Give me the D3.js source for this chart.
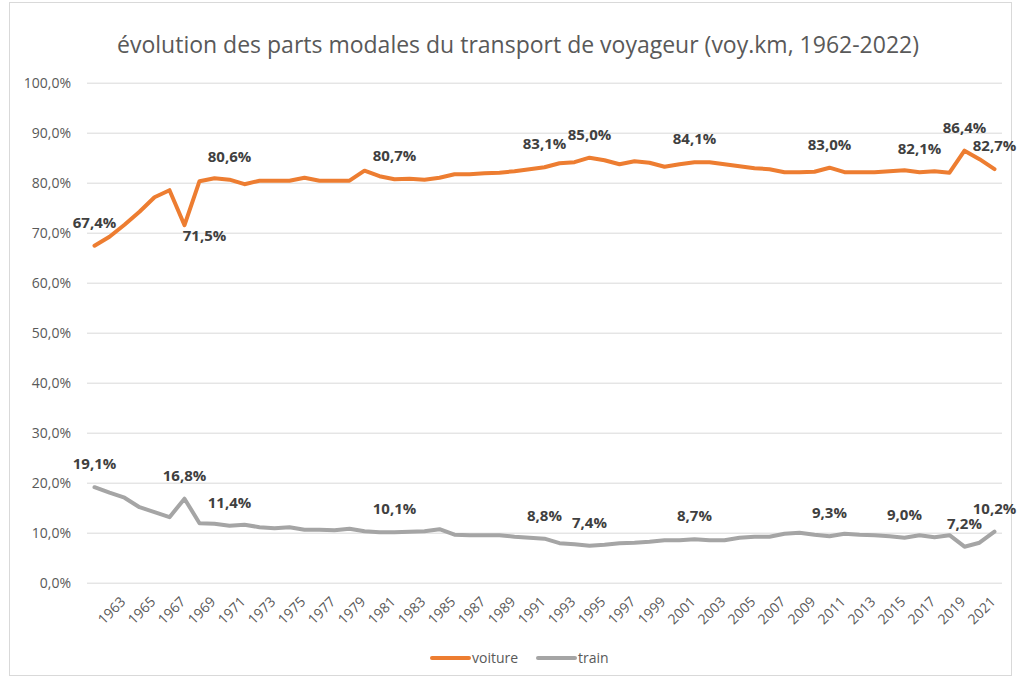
<!DOCTYPE html>
<html>
<head>
<meta charset="utf-8">
<script src="https://cdn.jsdelivr.net/npm/d3@7"></script>
<style>
  body { margin: 0; background: #fff; }
  text { font-family: "Open Sans", sans-serif; }
</style>
</head>
<body>
<div id="chart"></div>
<script>
// Categories (years)
const years = [1962, 1963, 1964, 1965, 1966, 1967, 1968, 1969, 1970, 1971,
  1972, 1973, 1974, 1975, 1976, 1977, 1978, 1979, 1980, 1981,
  1982, 1983, 1984, 1985, 1986, 1987, 1988, 1989, 1990, 1991,
  1992, 1993, 1994, 1995, 1996, 1997, 1998, 1999, 2000, 2001,
  2002, 2003, 2004, 2005, 2006, 2007, 2008, 2009, 2010, 2011,
  2012, 2013, 2014, 2015, 2016, 2017, 2018, 2019, 2020, 2021, 2022];

// Part modale voiture (%)
const voiture = [67.4, 69.2, 71.6, 74.2, 77.1, 78.5, 71.5, 80.3, 80.9, 80.6,
  79.7, 80.4, 80.4, 80.4, 81.0, 80.4, 80.4, 80.4, 82.4, 81.3,
  80.7, 80.8, 80.6, 81.0, 81.7, 81.7, 81.9, 82.0, 82.3, 82.7,
  83.1, 83.9, 84.1, 85.0, 84.5, 83.7, 84.3, 84.0, 83.2, 83.7,
  84.1, 84.1, 83.7, 83.3, 82.9, 82.7, 82.1, 82.1, 82.2, 83.0,
  82.1, 82.1, 82.1, 82.3, 82.5, 82.1, 82.3, 82.0, 86.4, 84.7, 82.7];

// Part modale train (%)
const train = [19.1, 18.0, 17.0, 15.1, 14.1, 13.1, 16.8, 11.9, 11.8, 11.4,
  11.6, 11.1, 10.9, 11.1, 10.6, 10.6, 10.5, 10.8, 10.3, 10.1,
  10.1, 10.2, 10.3, 10.7, 9.6, 9.5, 9.5, 9.5, 9.2, 9.0,
  8.8, 7.9, 7.7, 7.4, 7.6, 7.9, 8.0, 8.2, 8.5, 8.5,
  8.7, 8.5, 8.5, 9.0, 9.2, 9.2, 9.8, 10.0, 9.6, 9.3,
  9.8, 9.6, 9.5, 9.3, 9.0, 9.5, 9.1, 9.5, 7.2, 8.0, 10.2];

// Years that carry a data label
const voitureLabelYears = [1962, 1968, 1971, 1982, 1992, 1995, 2002, 2011, 2017, 2020, 2022];
const trainLabelYears = [1962, 1968, 1971, 1982, 1992, 1995, 2002, 2011, 2016, 2020, 2022];

// Axis ticks
const yTicks = [0, 10, 20, 30, 40, 50, 60, 70, 80, 90, 100];
const xTickYears = years.filter((d) => d % 2 === 1);

const title = "évolution des parts modales du transport de voyageur (voy.km, 1962-2022)";

const w = 1019;
const h = 679;
const plotLeft = 87, plotRight = 1002, plotTop = 82.7, plotBottom = 582.7;

const fr = d3.formatLocale({ decimal: ",", thousands: " ", grouping: [3], currency: ["", "€"] });
const pct = (v) => fr.format(".1f")(v) + "%";

const svg = d3.select("#chart").append("svg")
  .attr("width", w)
  .attr("height", h);

// Chart frame
svg.append("rect")
  .attr("x", 9.5).attr("y", 2.5)
  .attr("width", 1002).attr("height", 673)
  .attr("fill", "#fff")
  .attr("stroke", "#d9d9d9");

// Scales
const x = d3.scaleBand().domain(years).range([plotLeft, plotRight]);
const cx = (yr) => x(yr) + x.bandwidth() / 2;
const y = d3.scaleLinear().domain([0, 100]).range([plotBottom, plotTop]);

// Title
svg.append("text")
  .attr("x", 518).attr("y", 53)
  .attr("text-anchor", "middle")
  .attr("font-size", 23)
  .attr("fill", "#595959")
  .text(title);

// Y axis with gridlines
const yAxis = svg.append("g")
  .attr("transform", `translate(${plotLeft},0)`)
  .call(d3.axisLeft(y).tickValues(yTicks).tickFormat(pct)
    .tickSizeInner(-(plotRight - plotLeft)).tickSizeOuter(0).tickPadding(16));
yAxis.select(".domain").remove();
yAxis.selectAll(".tick line").attr("stroke", "#d9d9d9").attr("stroke-width", 1);
yAxis.selectAll(".tick text")
  .attr("font-size", 14)
  .attr("fill", "#595959")
  .attr("font-family", "Open Sans, sans-serif");

// X axis, rotated labels
const xAxis = svg.append("g")
  .attr("transform", `translate(0,${plotBottom})`)
  .call(d3.axisBottom(x).tickValues(xTickYears).tickSize(0));
xAxis.select(".domain").remove();
xAxis.selectAll(".tick text")
  .attr("x", 0).attr("y", 0).attr("dy", 0)
  .attr("text-anchor", "end")
  .attr("transform", "translate(17,20) rotate(-45)")
  .attr("font-size", 14)
  .attr("fill", "#595959")
  .attr("font-family", "Open Sans, sans-serif");

// Lines
const series = [
  { name: "voiture", values: voiture, color: "#ED7D31", labels: voitureLabelYears },
  { name: "train", values: train, color: "#A5A5A5", labels: trainLabelYears }
];

const line = d3.line()
  .x((d, i) => cx(years[i]))
  .y((d) => y(d));

series.forEach((s) => {
  svg.append("path")
    .datum(s.values)
    .attr("fill", "none")
    .attr("stroke", s.color)
    .attr("stroke-width", 4)
    .attr("stroke-linejoin", "round")
    .attr("stroke-linecap", "round")
    .attr("d", line);
});

// Data labels
series.forEach((s) => {
  svg.append("g")
    .selectAll("text")
    .data(s.labels)
    .enter()
    .append("text")
    .attr("x", (yr) => cx(yr) + (s.name === "voiture" && yr === 1968 ? 20 : 0))
    .attr("y", (yr) => {
      const v = s.values[years.indexOf(yr)];
      return y(v) + (s.name === "voiture" && yr === 1968 ? 16 : -18);
    })
    .attr("text-anchor", "middle")
    .attr("font-size", 15)
    .attr("font-weight", "bold")
    .attr("fill", "#404040")
    .text((yr) => pct(s.values[years.indexOf(yr)]));
});

// Legend
const legend = svg.append("g");
const legendItems = [
  { name: "voiture", color: "#ED7D31", x0: 432 },
  { name: "train", color: "#A5A5A5", x0: 538 }
];
legendItems.forEach((d) => {
  legend.append("line")
    .attr("x1", d.x0).attr("x2", d.x0 + 37)
    .attr("y1", 658).attr("y2", 658)
    .attr("stroke", d.color)
    .attr("stroke-width", 4)
    .attr("stroke-linecap", "round");
  legend.append("text")
    .attr("x", d.x0 + 40).attr("y", 663)
    .attr("font-size", 14)
    .attr("fill", "#595959")
    .text(d.name);
});
</script>
</body>
</html>
